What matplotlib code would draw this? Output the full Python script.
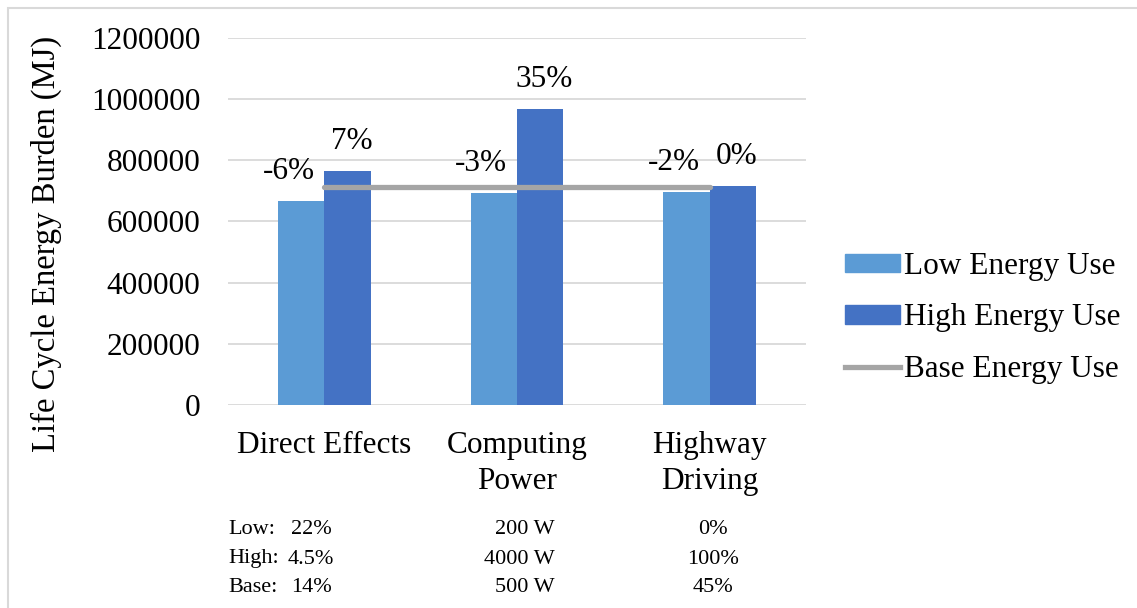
import numpy as np
import matplotlib
matplotlib.use("Agg")
import matplotlib.pyplot as plt
from matplotlib.patches import Rectangle
from matplotlib.lines import Line2D
from matplotlib.ticker import FuncFormatter

plt.rcParams['font.family'] = ['Liberation Serif', 'DejaVu Serif']

# data
categories = ['Direct Effects', 'Computing\nPower', 'Highway\nDriving']
low_vals = [667000, 693000, 698000]
high_vals = [765000, 968000, 716000]
base_vals = [713000, 713000, 713000]
low_labels = ['-6%', '-3%', '-2%']
high_labels = ['7%', '35%', '0%']

row_names = ['Low:', 'High:', 'Base:']
direct_params = ['22%', '4.5%', '14%']
computing_params = ['200 W', '4000 W', '500 W']
highway_params = ['0%', '100%', '45%']

W, H = 1137, 608
fs = 22.5
fig = plt.figure(figsize=(W / 100, H / 100), dpi=100)
ax = fig.add_axes([228 / W, 1 - 405 / H, (806 - 228) / W, (405 - 38) / H])

x = np.arange(len(categories))
bw = 0.24
low_color = '#5B9BD5'
high_color = '#4472C4'
base_color = '#A5A5A5'

ax.bar(x - bw / 2, low_vals, bw, color=low_color, zorder=2)
ax.bar(x + bw / 2, high_vals, bw, color=high_color, zorder=2)
ax.plot(x, base_vals, color=base_color, lw=3.8, solid_capstyle='round', zorder=3)

for i in range(len(x)):
    ax.annotate(low_labels[i], (x[i] - bw / 2, low_vals[i]), xytext=(-9, 21),
                textcoords='offset points', ha='center', va='center', fontsize=fs)
    ax.annotate(high_labels[i], (x[i] + bw / 2, high_vals[i]), xytext=(3, 21),
                textcoords='offset points', ha='center', va='center', fontsize=fs)

ax.set_xlim(-0.5, 2.5)
ax.set_ylim(0, 1200000)
ax.set_yticks(np.arange(0, 1200001, 200000))
ax.yaxis.set_major_formatter(FuncFormatter(lambda v, p: '%d' % v))
ax.yaxis.grid(True, color='#D9D9D9', lw=1.3, zorder=0)
ax.set_axisbelow(True)
for s in ax.spines.values():
    s.set_visible(False)
ax.tick_params(length=0, labelsize=fs)
ax.tick_params(axis='y', pad=20)
ax.tick_params(axis='x', pad=19)
ax.set_xticks(x)
ax.set_xticklabels(categories, linespacing=1.3)
ax.set_ylabel('Life Cycle Energy Burden (MJ)', fontsize=fs + 1)
ax.yaxis.set_label_coords((62 - 228) / 578, 0.44)

handles = [Rectangle((0, 0), 1, 1, color=low_color),
           Rectangle((0, 0), 1, 1, color=high_color),
           Line2D([], [], color=base_color, lw=3.8)]
fig.legend(handles, ['Low Energy Use', 'High Energy Use', 'Base Energy Use'],
           loc='center left', bbox_to_anchor=(845 / W, 1 - 318 / H), frameon=False,
           fontsize=fs, handlelength=1.75, handleheight=0.55, handletextpad=0.15,
           labelspacing=0.72, borderaxespad=0, borderpad=0)

# parameter table under the chart
row_y = [530, 559, 588]
for j in range(3):
    yy = 1 - row_y[j] / H
    fig.text(228 / W, yy, row_names[j], fontsize=16, va='center', ha='left')
    fig.text(311 / W, yy, direct_params[j], fontsize=16, va='center', ha='center')
    fig.text(555 / W, yy, computing_params[j], fontsize=16, va='center', ha='right')
    fig.text(713 / W, yy, highway_params[j], fontsize=16, va='center', ha='center')

# light frame around the chart
fig.patches.append(Rectangle((8 / W, -0.1), 1.1, 1 - 8 / H + 0.1, transform=fig.transFigure,
                             fill=False, edgecolor='#D9D9D9', lw=1.5))

fig.savefig('out.png', dpi=100)
